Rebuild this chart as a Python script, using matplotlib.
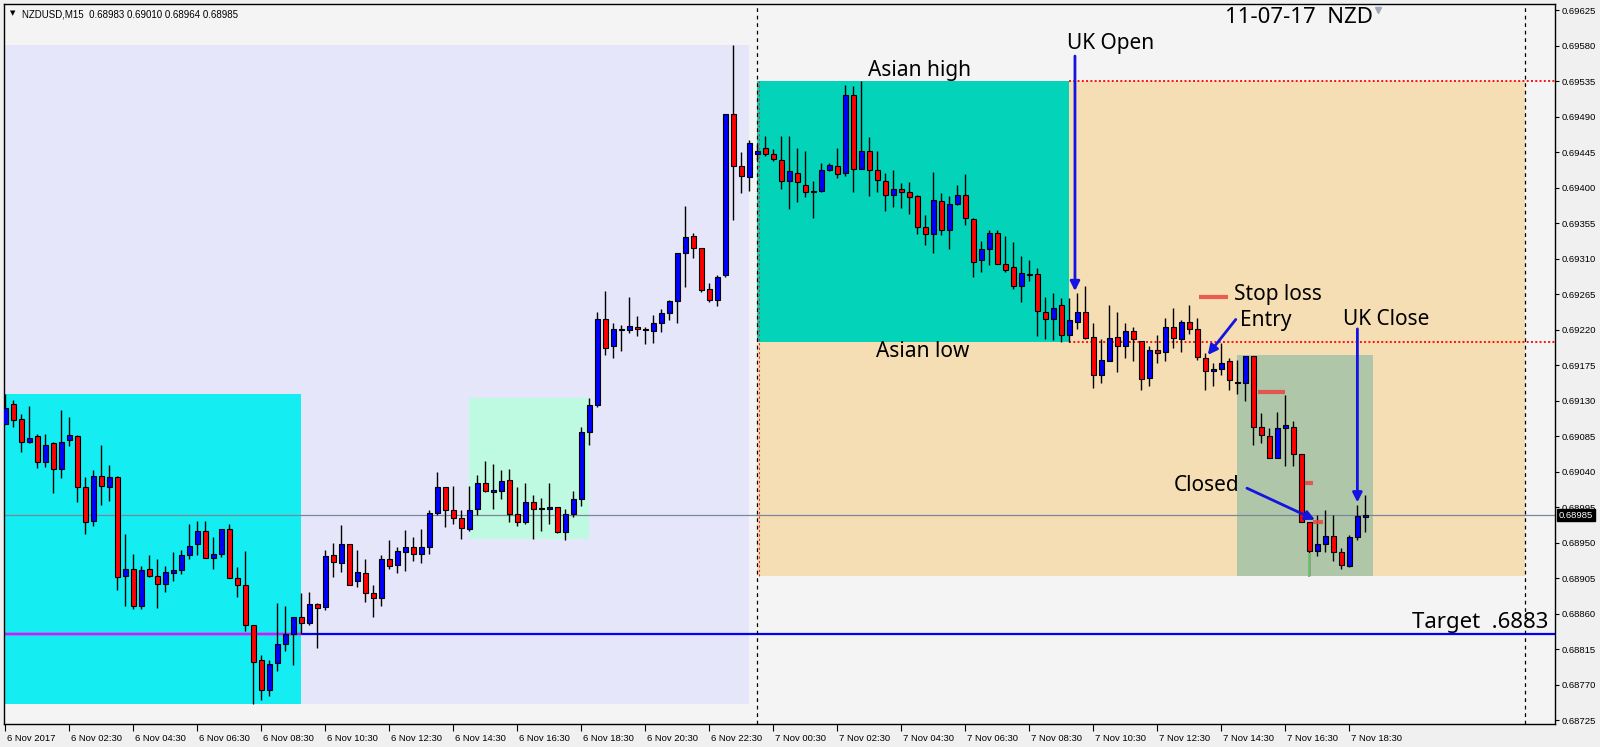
import matplotlib
matplotlib.use('Agg')
import matplotlib.pyplot as plt
import matplotlib.transforms as mtransforms
from matplotlib.patches import Rectangle

# ---------------- data (NZDUSD M15, bars from 6 Nov 00:30) ----------------
opens = [0.69100,0.69126,0.69107,0.69077,0.69085,0.69052,0.69076,0.69043,0.69080,0.69085,
         0.69021,0.68977,0.69035,0.69021,0.69033,0.68908,0.68916,0.68869,0.68916,0.68908,
         0.68897,0.68912,0.68915,0.68934,0.68948,0.68965,0.68930,0.68935,0.68967,0.68905,
         0.68896,0.68845,0.68801,0.68763,0.68797,0.68822,0.68834,0.68856,0.68848,0.68872,
         0.68868,0.68934,0.68924,0.68948,0.68901,0.68912,0.68886,0.68880,0.68929,0.68921,
         0.68938,0.68944,0.68936,0.68944,0.68988,0.69020,0.68991,0.68981,0.68967,0.68992,
         0.69025,0.69014,0.69016,0.69029,0.68986,0.68976,0.69002,0.68993,0.68993,0.68995,
         0.68964,0.68986,0.69005,0.69090,0.69125,0.69233,0.69199,0.69221,0.69220,0.69224,
         0.69221,0.69218,0.69228,0.69241,0.69256,0.69317,0.69339,0.69323,0.69271,0.69258,
         0.69289,0.69493,0.69427,0.69414,0.69443,0.69450,0.69443,0.69435,0.69408,0.69419,
         0.69404,0.69394,0.69396,0.69423,0.69428,0.69419,0.69517,0.69424,0.69447,0.69422,
         0.69409,0.69391,0.69399,0.69395,0.69389,0.69350,0.69341,0.69383,0.69346,0.69380,
         0.69391,0.69361,0.69309,0.69322,0.69342,0.69303,0.69300,0.69276,0.69291,0.69290,
         0.69243,0.69233,0.69251,0.69213,0.69230,0.69243,0.69211,0.69162,0.69180,0.69211,
         0.69199,0.69218,0.69206,0.69159,0.69194,0.69192,0.69223,0.69208,0.69230,0.69221,
         0.69184,0.69167,0.69170,0.69180,0.69154,0.69153,0.69187,0.69096,0.69085,0.69057,
         0.69095,0.69097,0.69062,0.68976,0.68940,0.68948,0.68959,0.68938,0.68920,0.68957,
         0.68983]
highs = [0.69139,0.69131,0.69113,0.69123,0.69088,0.69088,0.69078,0.69118,0.69109,0.69087,
         0.69033,0.69042,0.69074,0.69048,0.69034,0.68961,0.68935,0.68920,0.68934,0.68929,
         0.68920,0.68938,0.68941,0.68974,0.68978,0.68977,0.68957,0.68967,0.68974,0.68919,
         0.68940,0.68845,0.68807,0.68801,0.68874,0.68870,0.68856,0.68886,0.68887,0.68874,
         0.68941,0.68949,0.68972,0.68948,0.68941,0.68929,0.68896,0.68934,0.68953,0.68944,
         0.68966,0.68957,0.68967,0.68991,0.69039,0.69020,0.69022,0.68991,0.69022,0.69036,
         0.69053,0.69050,0.69042,0.69043,0.69021,0.69025,0.69011,0.69006,0.69026,0.68995,
         0.68993,0.69015,0.69097,0.69133,0.69243,0.69269,0.69228,0.69226,0.69262,0.69237,
         0.69224,0.69239,0.69246,0.69258,0.69317,0.69377,0.69342,0.69324,0.69279,0.69289,
         0.69493,0.69581,0.69445,0.69460,0.69454,0.69465,0.69449,0.69465,0.69465,0.69450,
         0.69446,0.69408,0.69431,0.69432,0.69451,0.69530,0.69529,0.69535,0.69464,0.69446,
         0.69419,0.69422,0.69406,0.69407,0.69391,0.69365,0.69420,0.69393,0.69389,0.69403,
         0.69418,0.69362,0.69333,0.69346,0.69347,0.69339,0.69331,0.69314,0.69308,0.69298,
         0.69261,0.69267,0.69260,0.69260,0.69266,0.69275,0.69228,0.69208,0.69251,0.69243,
         0.69229,0.69223,0.69206,0.69199,0.69213,0.69235,0.69248,0.69232,0.69251,0.69235,
         0.69190,0.69178,0.69203,0.69184,0.69182,0.69187,0.69187,0.69114,0.69095,0.69115,
         0.69137,0.69104,0.69062,0.68976,0.68985,0.68991,0.68985,0.68943,0.68960,0.68998,
         0.69010]
lows = [0.69100,0.69097,0.69065,0.69076,0.69044,0.69046,0.69013,0.69032,0.69073,0.69002,
        0.68961,0.68971,0.68998,0.69003,0.68890,0.68869,0.68866,0.68866,0.68906,0.68867,
        0.68888,0.68901,0.68910,0.68929,0.68934,0.68930,0.68917,0.68932,0.68905,0.68881,
        0.68838,0.68745,0.68750,0.68755,0.68787,0.68813,0.68795,0.68834,0.68846,0.68816,
        0.68864,0.68906,0.68913,0.68896,0.68894,0.68875,0.68856,0.68869,0.68916,0.68912,
        0.68914,0.68927,0.68924,0.68936,0.68985,0.68970,0.68974,0.68954,0.68965,0.68985,
        0.69014,0.68993,0.69005,0.68976,0.68971,0.68974,0.68955,0.68965,0.68974,0.68962,
        0.68953,0.68982,0.68997,0.69074,0.69122,0.69188,0.69184,0.69193,0.69216,0.69212,
        0.69202,0.69203,0.69217,0.69232,0.69229,0.69274,0.69311,0.69268,0.69255,0.69250,
        0.69287,0.69359,0.69393,0.69396,0.69435,0.69440,0.69434,0.69398,0.69373,0.69382,
        0.69388,0.69362,0.69395,0.69421,0.69412,0.69415,0.69394,0.69424,0.69389,0.69394,
        0.69370,0.69376,0.69374,0.69367,0.69341,0.69328,0.69317,0.69340,0.69322,0.69378,
        0.69353,0.69287,0.69293,0.69302,0.69303,0.69293,0.69271,0.69255,0.69282,0.69212,
        0.69208,0.69207,0.69205,0.69205,0.69221,0.69208,0.69146,0.69152,0.69180,0.69166,
        0.69184,0.69180,0.69144,0.69148,0.69178,0.69180,0.69197,0.69192,0.69214,0.69182,
        0.69143,0.69148,0.69163,0.69144,0.69139,0.69130,0.69074,0.69076,0.69057,0.69057,
        0.69047,0.69047,0.68976,0.68908,0.68933,0.68938,0.68927,0.68916,0.68919,0.68953,
        0.68964]
closes = [0.69121,0.69106,0.69078,0.69083,0.69052,0.69074,0.69043,0.69077,0.69086,0.69021,
          0.68976,0.69035,0.69022,0.69033,0.68906,0.68916,0.68869,0.68915,0.68908,0.68897,
          0.68913,0.68915,0.68934,0.68946,0.68965,0.68931,0.68936,0.68967,0.68905,0.68896,
          0.68845,0.68799,0.68763,0.68796,0.68822,0.68834,0.68856,0.68848,0.68872,0.68867,
          0.68933,0.68925,0.68948,0.68896,0.68913,0.68886,0.68880,0.68929,0.68920,0.68939,
          0.68944,0.68936,0.68944,0.68988,0.69020,0.68991,0.68981,0.68968,0.68991,0.69025,
          0.69015,0.69017,0.69028,0.68986,0.68976,0.69001,0.68993,0.68993,0.68995,0.68964,
          0.68986,0.69005,0.69090,0.69125,0.69234,0.69197,0.69221,0.69220,0.69225,0.69221,
          0.69219,0.69228,0.69241,0.69256,0.69317,0.69338,0.69324,0.69270,0.69258,0.69287,
          0.69493,0.69427,0.69415,0.69457,0.69446,0.69443,0.69436,0.69408,0.69421,0.69407,
          0.69394,0.69396,0.69423,0.69429,0.69418,0.69517,0.69424,0.69447,0.69422,0.69410,
          0.69391,0.69399,0.69394,0.69388,0.69350,0.69341,0.69384,0.69346,0.69379,0.69391,
          0.69362,0.69306,0.69322,0.69342,0.69303,0.69296,0.69276,0.69292,0.69289,0.69244,
          0.69234,0.69248,0.69213,0.69232,0.69243,0.69210,0.69163,0.69181,0.69210,0.69199,
          0.69218,0.69208,0.69158,0.69194,0.69191,0.69223,0.69209,0.69230,0.69221,0.69185,
          0.69167,0.69170,0.69178,0.69156,0.69152,0.69187,0.69096,0.69086,0.69057,0.69095,
          0.69099,0.69062,0.68976,0.68940,0.68948,0.68959,0.68938,0.68921,0.68957,0.68984,
          0.68985]

x_tick_bars = [0, 8, 16, 24, 32, 40, 48, 56, 64, 72, 80, 88, 96, 104, 112, 120, 128,
               136, 144, 152, 160, 168]
x_tick_labels = ['6 Nov 2017', '6 Nov 02:30', '6 Nov 04:30', '6 Nov 06:30', '6 Nov 08:30',
                 '6 Nov 10:30', '6 Nov 12:30', '6 Nov 14:30', '6 Nov 16:30', '6 Nov 18:30',
                 '6 Nov 20:30', '6 Nov 22:30', '7 Nov 00:30', '7 Nov 02:30', '7 Nov 04:30',
                 '7 Nov 06:30', '7 Nov 08:30', '7 Nov 10:30', '7 Nov 12:30', '7 Nov 14:30',
                 '7 Nov 16:30', '7 Nov 18:30']
y_tick_values = [0.68725, 0.68770, 0.68815, 0.68860, 0.68905, 0.68950, 0.68995, 0.69040,
                 0.69085, 0.69130, 0.69175, 0.69220, 0.69265, 0.69310, 0.69355, 0.69400,
                 0.69445, 0.69490, 0.69535, 0.69580, 0.69625]

# session boxes: (start bar, end bar, low, high, colour)
zone_starts = [0, 0, 58, 94, 94, 154]
zone_ends = [93, 37, 73, 190, 133, 171]
zone_lows = [0.68745, 0.68745, 0.68954, 0.68908, 0.69205, 0.68908]
zone_highs = [0.69581, 0.69139, 0.69133, 0.69535, 0.69535, 0.69188]
zone_colors = ['#E6E6FA', '#14EEF2', '#BEF9E1', '#F5DEB3', '#03D3B9', '#B0C6A9']

asian_high = 0.69535
asian_low = 0.69205
target = 0.68834
bid = 0.68985
day_separators = [94, 190]

# stop-loss markers: (bar from, bar to, price)
sl_from = [149.2, 156.6, 162.5, 163.4]
sl_to = [152.8, 160.0, 163.5, 164.7]
sl_price = [0.69261, 0.69141, 0.69025, 0.68976]

# ---------------- figure ----------------
W, H, DPI = 1600, 747, 100
fig = plt.figure(figsize=(W / DPI, H / DPI), dpi=DPI, facecolor='#F0F0F0')
ax = fig.add_axes([4 / W, 1 - 724 / H, (1555 - 4) / W, (724 - 4) / H])
ax.set_facecolor('#F4F4F4')
ax.set_xlim(-0.16, 193.7)
ax.set_ylim(0.68720, 0.69633)

# zones
for s, e, lo, hi, c in zip(zone_starts, zone_ends, zone_lows, zone_highs, zone_colors):
    ax.add_patch(Rectangle((s, lo), e - s, hi - lo, facecolor=c, edgecolor='none', zorder=0.5))

# horizontal lines
ax.axhline(bid, color='#7A8799', lw=0.9, zorder=1)
ax.axhline(target, color='#0000FF', lw=1.6, zorder=1)
ax.plot([0, 37], [target, target], color='#FF00FF', lw=1.6, zorder=1.1)
for lvl in (asian_high, asian_low):
    ax.plot([133, 193.7], [lvl, lvl], color='#FF1010', lw=1.4, ls=(0, (1, 1.2)), zorder=1.2)
ax.plot([94.2, 94.2], [zone_lows[3], asian_high], color='#F03030', lw=0.8, ls=(0, (2, 2)), zorder=1.2)
for b in day_separators:
    ax.axvline(b, color='black', lw=0.9, ls=(0, (3, 3)), zorder=1.3)

# candles
bw = 0.6
for i, (o, h, l, c) in enumerate(zip(opens, highs, lows, closes)):
    ax.plot([i, i], [l, h], color='black', lw=1.0, zorder=3, solid_capstyle='butt')
    if c > o:
        fc = '#0000FF'
    elif c < o:
        fc = '#FF0000'
    else:
        fc = 'black'
    bottom = min(o, c)
    height = max(abs(c - o), 0.000015)
    ax.add_patch(Rectangle((i - bw / 2, bottom), bw, height, facecolor=fc,
                           edgecolor='black', lw=0.8, zorder=3.2))

# green wick segment of the exit bar
ax.plot([163, 163], [0.68908, 0.68935], color='#6DC56D', lw=1.4, zorder=3.3)

# stop loss markers
for a, b, p in zip(sl_from, sl_to, sl_price):
    ax.plot([a, b], [p, p], color='#E8453F', lw=3.0, alpha=0.85, zorder=3.5,
            solid_capstyle='butt')

# arrows
acol = '#1414E0'
arrow_kw = dict(arrowstyle='-|>', color=acol, lw=2.0, mutation_scale=14, shrinkA=0, shrinkB=0)
ax.annotate('', xy=(133.7, 0.69269), xytext=(133.7, 0.69567), arrowprops=arrow_kw, zorder=5)
ax.annotate('', xy=(169.0, 0.69001), xytext=(169.0, 0.69221), arrowprops=arrow_kw, zorder=5)
ax.annotate('', xy=(150.3, 0.69188), xytext=(153.8, 0.69233), arrowprops=arrow_kw, zorder=5)
ax.annotate('', xy=(163.7, 0.68979), xytext=(155.2, 0.69019), arrowprops=arrow_kw, zorder=5)

# texts
tf = 'Noto Sans'
tk = dict(fontsize=15, family=tf, color='black', ha='center', va='center', zorder=6)
ax.text(138.1, 0.69583, 'UK Open', **tk)
ax.text(114.3, 0.69549, 'Asian high', **tk)
ax.text(114.7, 0.69192, 'Asian low', **tk)
ax.text(159.1, 0.69264, 'Stop loss', **tk)
ax.text(157.6, 0.69232, 'Entry', **tk)
ax.text(172.6, 0.69233, 'UK Close', **tk)
ax.text(150.2, 0.69023, 'Closed', **tk)
ax.text(184.4, 0.68849, 'Target  .6883', fontsize=16, family=tf, color='black',
        ha='center', va='center', zorder=6)
ax.text(161.7, 0.69616, '11-07-17  NZD', fontsize=16, family=tf, color='black',
        ha='center', va='center', zorder=6)
ax.plot([171.6], [0.69625], marker='v', color='#A0A8B8', ms=5, zorder=6, clip_on=False)

# header
ax.text(0.004, 0.991, '\u25BC', transform=ax.transAxes, fontsize=5, family='DejaVu Sans',
        va='top', ha='left')
ax.text(0.0115, 0.993, 'NZDUSD,M15  0.68983 0.69010 0.68964 0.68985', transform=ax.transAxes,
        fontsize=7, family='Liberation Sans', va='top', ha='left')

# axes styling
for sp in ax.spines.values():
    sp.set_color('black')
    sp.set_linewidth(1.0)
ax.yaxis.tick_right()
ax.set_yticks(y_tick_values)
ax.set_yticklabels([f'{v:.5f}' for v in y_tick_values], fontsize=6.8, family='Liberation Sans')
ax.tick_params(axis='y', direction='out', length=3, width=0.8, pad=2)
ax.set_xticks(x_tick_bars)
ax.set_xticklabels(x_tick_labels, fontsize=6.8, family='Liberation Sans')
ax.tick_params(axis='x', direction='out', length=5, width=0.8, pad=2)
offset = mtransforms.ScaledTranslation(2 / DPI, 0, fig.dpi_scale_trans)
for lab in ax.get_xticklabels():
    lab.set_horizontalalignment('left')
    lab.set_transform(lab.get_transform() + offset)

# current price tag
ax.annotate(f'{bid:.5f}', xy=(1.0, bid), xycoords=('axes fraction', 'data'),
            xytext=(2.5, 0), textcoords='offset points', va='center', ha='left',
            color='white', fontsize=6.8, family='Liberation Sans',
            bbox=dict(boxstyle='square,pad=0.2', fc='black', ec='black'),
            annotation_clip=False, zorder=10)

fig.savefig('out.png', dpi=DPI, facecolor=fig.get_facecolor())
